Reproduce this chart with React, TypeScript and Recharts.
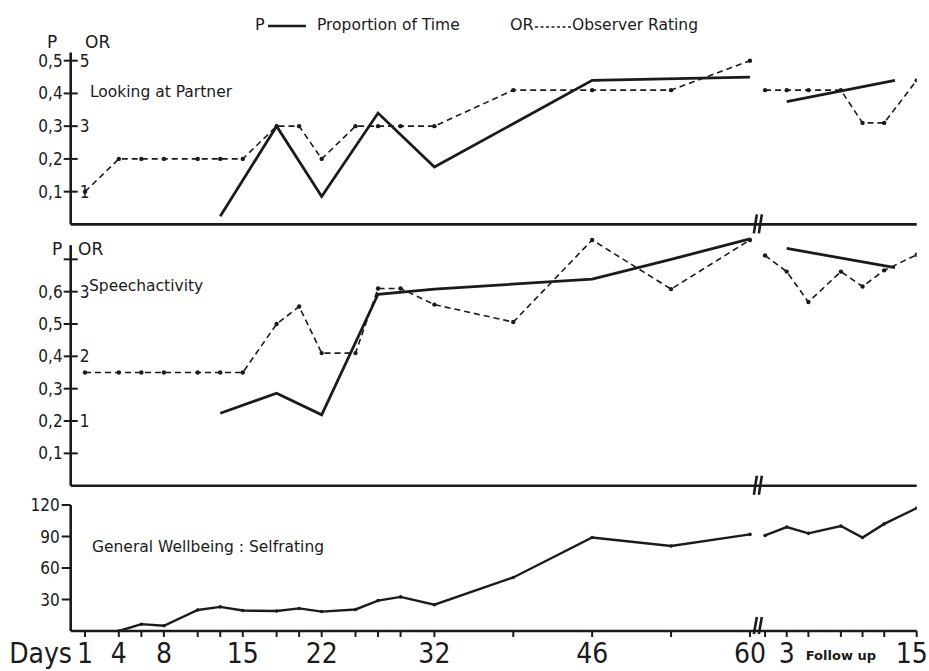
import React from 'react';
import { LineChart, Line, XAxis, YAxis, ReferenceLine, ReferenceDot } from 'recharts';

const FONT = "'DejaVu Sans Condensed', 'DejaVu Sans', sans-serif";
const LABEL_FONT = "'DejaVu Sans', sans-serif";
const INK = '#1b1b1b';

// follow-up days are drawn on a slightly compressed stretch after the axis break
const fuPos = (f: number) => 60.38 + 0.961 * f;
const X_MIN = -0.27;
const X_MAX = fuPos(15);
const BREAK_AT = 60.7;

// axis ticks / labels
const mainTickDays = [1, 4, 6, 8, 11, 13, 15, 18, 20, 22, 25, 27, 29, 32, 39, 46, 53, 60];
const fuTickDays = [1, 3, 5, 8, 10, 12, 15];
const mainDayLabels = [1, 4, 8, 15, 22, 32, 46, 60];
const fuDayLabels = [3, 15];

// Looking at Partner
const lookOrDays = [1, 4, 6, 8, 11, 13, 15, 18, 20, 22, 25, 27, 29, 32, 39, 46, 53, 60];
const lookOr = [1, 2, 2, 2, 2, 2, 2, 3, 3, 2, 3, 3, 3, 3, 4.1, 4.1, 4.1, 5];
const lookPDays = [13, 18, 22, 27, 32, 46, 60];
const lookP = [0.025, 0.3, 0.085, 0.34, 0.175, 0.44, 0.45];
const lookFuOrDays = [1, 3, 5, 8, 10, 12, 15];
const lookFuOr = [4.1, 4.1, 4.1, 4.1, 3.1, 3.1, 4.4];
const lookFuPDays = [3, 13];
const lookFuP = [0.375, 0.44];

// Speechactivity
const speechOrDays = [1, 4, 6, 8, 11, 13, 15, 18, 20, 22, 25, 27, 29, 32, 39, 46, 53, 60];
const speechOr = [1.75, 1.75, 1.75, 1.75, 1.75, 1.75, 1.75, 2.5, 2.77, 2.05, 2.05, 3.05, 3.05, 2.8, 2.53, 3.8, 3.04, 3.8];
const speechPDays = [13, 18, 22, 27, 32, 46, 53, 60];
const speechP = [0.224, 0.286, 0.219, 0.592, 0.608, 0.639, 0.7, 0.763];
const speechFuOrDays = [1, 3, 5, 8, 10, 12, 15];
const speechFuOr = [3.56, 3.31, 2.84, 3.31, 3.08, 3.33, 3.57];
const speechFuPDays = [3, 13];
const speechFuP = [0.734, 0.674];

// General Wellbeing : Selfrating
const wbDays = [4, 6, 8, 11, 13, 15, 18, 20, 22, 25, 27, 29, 32, 39, 46, 53, 60];
const wb = [0, 6.5, 5, 20, 23, 19.5, 19, 21.5, 18.5, 20.5, 29, 32.5, 25, 51, 89, 81, 92];
const wbFuDays = [1, 3, 5, 8, 10, 12, 15];
const wbFu = [91, 99, 93, 100, 89, 102, 117];

const topPTicks = [0.1, 0.2, 0.3, 0.4, 0.5];
const topOrLabels = [1, 3, 5];
const midPTicks = [0.1, 0.2, 0.3, 0.4, 0.5, 0.6, 0.7];
const midPLabels = [0.1, 0.2, 0.3, 0.4, 0.5, 0.6];
const midOrLabels = [1, 2, 3];
const wbTicks = [30, 60, 90, 120];

const pts = (xs: number[], vs: number[]) => xs.map((x, i) => ({ x, v: vs[i] }));
const fuPts = (fs: number[], vs: number[]) => fs.map((f, i) => ({ x: fuPos(f), v: vs[i] }));

const same = (a: number, b: number) => Math.abs(a - b) < 1e-6;
const comma = (v: number) => v.toFixed(1).replace('.', ',');

const solid = { stroke: INK, strokeWidth: 2.8, dot: false, isAnimationActive: false, type: 'linear' as const };
const dashed = {
  stroke: INK,
  strokeWidth: 1.6,
  strokeDasharray: '6 4',
  dot: { r: 2.2, fill: INK, stroke: 'none' },
  isAnimationActive: false,
  type: 'linear' as const,
};

function pTick(orPerP: number, pLabels: number[], orLabels: number[]) {
  return ({ x, y, payload }: any) => {
    const p = payload.value;
    const or = Math.round(p * orPerP * 100) / 100;
    return (
      <g>
        <line x1={x - 7} x2={x + 7} y1={y} y2={y} stroke={INK} strokeWidth={2} />
        {pLabels.some((l) => same(l, p)) && (
          <text x={x - 8} y={y + 6} textAnchor="end" fontSize={17} fontFamily={FONT} fill={INK}>
            {comma(p)}
          </text>
        )}
        {orLabels.some((l) => same(l, or)) && (
          <text x={x + 9} y={y + 6} fontSize={17} fontFamily={FONT} fill={INK}>
            {or}
          </text>
        )}
      </g>
    );
  };
}

function WbTick({ x, y, payload }: any) {
  return (
    <g>
      <line x1={x - 9} x2={x} y1={y} y2={y} stroke={INK} strokeWidth={2} />
      <text x={x - 11} y={y + 6} textAnchor="end" fontSize={17} fontFamily={FONT} fill={INK}>
        {payload.value}
      </text>
    </g>
  );
}

function dayLabel(v: number) {
  const m = mainDayLabels.find((d) => same(d, v));
  if (m !== undefined) return String(m);
  const f = fuDayLabels.find((d) => same(fuPos(d), v));
  if (f !== undefined) return String(f);
  return null;
}

function DayTick({ x, y, payload }: any) {
  const v = payload.value;
  const label = dayLabel(v);
  // last label sits against the right edge
  const isLast = same(v, X_MAX);
  return (
    <g>
      <line x1={x} x2={x} y1={y} y2={y + 6} stroke={INK} strokeWidth={2} />
      {label && (
        <text
          x={isLast ? x + 11 : x}
          y={y + 32}
          textAnchor={isLast ? 'end' : 'middle'}
          fontSize={28}
          fontFamily={FONT}
          fill={INK}
        >
          {label}
        </text>
      )}
      {same(v, 1) && (
        <text x={x - 13} y={y + 32} textAnchor="end" fontSize={28} fontFamily={FONT} fill={INK}>
          Days
        </text>
      )}
      {same(v, fuPos(8)) && (
        <text x={x} y={y + 29} textAnchor="middle" fontSize={13} fontWeight={600} fontFamily={LABEL_FONT} fill={INK}>
          Follow up
        </text>
      )}
    </g>
  );
}

const breakMark = (up: number, down: number) => ({ cx, cy }: any) => (
  <g stroke={INK} strokeWidth={2.6}>
    <line x1={cx - 4} y1={cy + down} x2={cx - 1} y2={cy - up} />
    <line x1={cx + 1} y1={cy + down} x2={cx + 4} y2={cy - up} />
  </g>
);

const xAxisCommon = {
  type: 'number' as const,
  dataKey: 'x',
  domain: [X_MIN, X_MAX],
  allowDataOverflow: true,
  axisLine: { stroke: INK, strokeWidth: 2.6 },
};

export default function App() {
  return (
    <div style={{ position: 'absolute', left: 0, top: 0, width: 929, height: 671, background: '#fff' }}>
      <div style={{ position: 'absolute', left: 0, top: 0 }}>
        <LineChart width={929} height={240} margin={{ top: 52.5, right: 12.3, bottom: 14.6, left: 0 }}>
          <XAxis {...xAxisCommon} height={1} tick={false} tickLine={false} />
          <YAxis
            yAxisId="p"
            width={70.7}
            domain={[0, 0.525]}
            ticks={topPTicks}
            interval={0}
            tick={pTick(10, topPTicks, topOrLabels)}
            tickLine={false}
            tickSize={0}
            tickMargin={0}
            axisLine={{ stroke: INK, strokeWidth: 2.6 }}
          />
          <YAxis yAxisId="or" hide orientation="right" width={0} domain={[0, 5.25]} />
          <Line yAxisId="or" data={pts(lookOrDays, lookOr)} dataKey="v" {...dashed} />
          <Line yAxisId="or" data={fuPts(lookFuOrDays, lookFuOr)} dataKey="v" {...dashed} />
          <Line yAxisId="p" data={pts(lookPDays, lookP)} dataKey="v" {...solid} />
          <Line yAxisId="p" data={fuPts(lookFuPDays, lookFuP)} dataKey="v" {...solid} />
          <ReferenceDot yAxisId="p" x={BREAK_AT} y={0} ifOverflow="visible" shape={breakMark(10, 9)} />
        </LineChart>
      </div>

      <div style={{ position: 'absolute', left: 0, top: 230 }}>
        <LineChart width={929} height={270} margin={{ top: 6.7, right: 12.3, bottom: 13.3, left: 0 }}>
          <XAxis {...xAxisCommon} height={1} tick={false} tickLine={false} />
          <YAxis
            yAxisId="p"
            width={70.7}
            domain={[0, 0.77]}
            ticks={midPTicks}
            interval={0}
            tick={pTick(5, midPLabels, midOrLabels)}
            tickLine={false}
            tickSize={0}
            tickMargin={0}
            axisLine={false}
          />
          <YAxis yAxisId="or" hide orientation="right" width={0} domain={[0, 3.85]} />
          <ReferenceLine
            yAxisId="p"
            segment={[{ x: X_MIN, y: 0 }, { x: X_MIN, y: 0.744 }]}
            stroke={INK}
            strokeWidth={2.6}
            ifOverflow="visible"
          />
          <Line yAxisId="or" data={pts(speechOrDays, speechOr)} dataKey="v" {...dashed} />
          <Line yAxisId="or" data={fuPts(speechFuOrDays, speechFuOr)} dataKey="v" {...dashed} />
          <Line yAxisId="p" data={pts(speechPDays, speechP)} dataKey="v" {...solid} />
          <Line yAxisId="p" data={fuPts(speechFuPDays, speechFuP)} dataKey="v" {...solid} />
          <ReferenceDot yAxisId="p" x={BREAK_AT} y={0} ifOverflow="visible" shape={breakMark(10, 9)} />
        </LineChart>
      </div>

      <div style={{ position: 'absolute', left: 0, top: 490 }}>
        <LineChart width={929} height={181} margin={{ top: 15, right: 12.3, bottom: 0, left: 0 }}>
          <XAxis
            {...xAxisCommon}
            height={40}
            ticks={[...mainTickDays, ...fuTickDays.map(fuPos)]}
            interval={0}
            tick={DayTick}
            tickLine={false}
            tickSize={0}
            tickMargin={0}
          />
          <YAxis
            width={70.7}
            domain={[0, 120]}
            ticks={wbTicks}
            interval={0}
            tick={WbTick}
            tickLine={false}
            tickSize={0}
            tickMargin={0}
            axisLine={{ stroke: INK, strokeWidth: 2.6 }}
          />
          <Line data={pts(wbDays, wb)} dataKey="v" {...solid} strokeWidth={2.4} dot={{ r: 1.8, fill: INK, stroke: 'none' }} />
          <Line data={fuPts(wbFuDays, wbFu)} dataKey="v" {...solid} strokeWidth={2.4} dot={{ r: 1.8, fill: INK, stroke: 'none' }} />
          <ReferenceDot x={BREAK_AT} y={0} ifOverflow="visible" shape={breakMark(14, 3)} />
        </LineChart>
      </div>

      <svg width={929} height={671} style={{ position: 'absolute', left: 0, top: 0, pointerEvents: 'none' }}>
        <g fontFamily={LABEL_FONT} fill={INK}>
          <text x={255} y={30} fontSize={16}>P</text>
          <line x1={268} x2={306} y1={26} y2={26} stroke={INK} strokeWidth={2.5} />
          <text x={317} y={30} fontSize={15.5}>Proportion of Time</text>
          <text x={510} y={30} fontSize={16}>OR</text>
          <line x1={535} x2={571} y1={27} y2={27} stroke={INK} strokeWidth={1.6} strokeDasharray="3 2.5" />
          <text x={572} y={30} fontSize={15.5}>Observer Rating</text>

          <text x={47} y={48} fontSize={17}>P</text>
          <text x={85} y={48} fontSize={17}>OR</text>
          <text x={90} y={97} fontSize={15.5}>Looking at Partner</text>

          <text x={52} y={255} fontSize={17}>P</text>
          <text x={78} y={255} fontSize={17}>OR</text>
          <text x={89} y={291} fontSize={15.5}>Speechactivity</text>

          <text x={92} y={552} fontSize={15.5}>General Wellbeing : Selfrating</text>
        </g>
      </svg>
    </div>
  );
}
